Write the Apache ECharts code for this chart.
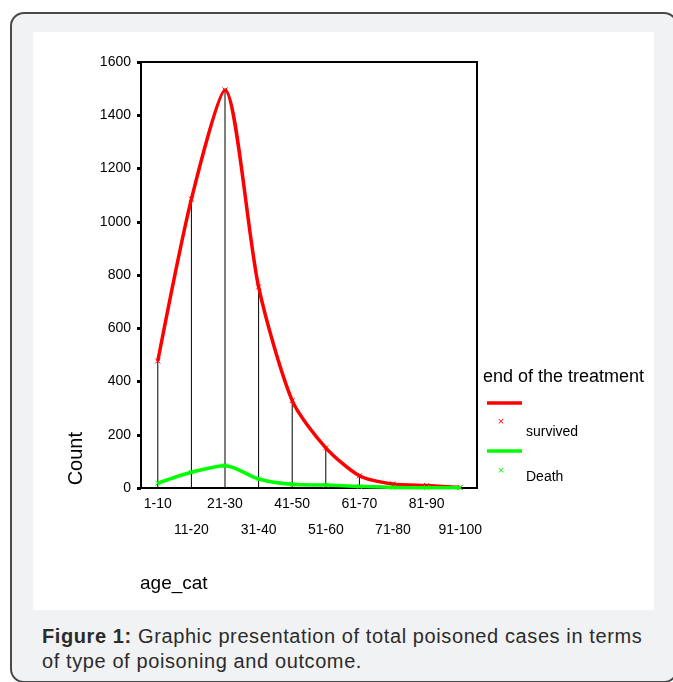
<!DOCTYPE html>
<html lang="en">
<head>
    <meta charset="UTF-8">
    <script src="https://cdn.jsdelivr.net/npm/echarts@6/dist/echarts.min.js"></script>
    <title>age_cat</title>
    <style>
        html,
        body {
            margin: 0;
            padding: 0;
            width: 673px;
            height: 682px;
            overflow: hidden;
            background: #fff;
            font-family: Arial, "Liberation Sans", sans-serif;
        }
        .outer-box {
            position: absolute;
            left: 10px;
            top: 12px;
            width: 664px;
            height: 667px;
            border: 2px solid #4a4a4a;
            border-radius: 14px;
            background: #f1f2f4;
        }
        .panel {
            position: absolute;
            left: 33px;
            top: 32px;
            width: 621px;
            height: 578px;
            background: #fff;
        }
        .my-chart {
            width: 100%;
            height: 100%;
        }
        .caption {
            position: absolute;
            left: 42px;
            top: 624px;
            font-size: 20px;
            line-height: 25px;
            letter-spacing: 0.6px;
            color: #2b2b2b;
        }
    </style>
</head>
<body>

<div class="outer-box"></div>
<div class="panel">
    <div class="my-chart"></div>
</div>
<div class="caption"><b>Figure 1:</b> Graphic presentation of total poisoned cases in terms<br>of type of poisoning and outcome.</div>

<script>
    var categories = ['1-10', '11-20', '21-30', '31-40', '41-50', '51-60', '61-70', '71-80', '81-90', '91-100'];
    var survived = [477, 1085, 1495, 755, 328, 151, 46, 15, 9, 2];
    var death = [18, 59, 84, 34, 14, 11, 6, 2, 1, 1];
    var yMin = 0, yMax = 1600, yStep = 200;

    var font = 'Arial, "Liberation Sans", sans-serif';
    var cross = 'path://M0,0L10,10M10,0L0,10';

    var myChart = echarts.init(document.querySelector('.my-chart'));

    var option = {
        animation: false,
        backgroundColor: '#fff',
        textStyle: {fontFamily: font},
        grid: {
            left: 108,
            top: 30,
            width: 336,
            height: 426,
            show: true,
            borderColor: '#000',
            borderWidth: 2,
            backgroundColor: 'transparent'
        },
        xAxis: {
            type: 'category',
            data: categories,
            boundaryGap: true,
            axisLine: {lineStyle: {color: '#000', width: 2}},
            axisTick: {alignWithLabel: true, length: 4, lineStyle: {color: '#000', width: 2}},
            axisLabel: {
                interval: 0,
                margin: 3,
                color: '#000',
                fontSize: 14,
                lineHeight: 26,
                fontFamily: font,
                formatter: function (v, i) {
                    return i % 2 ? '\n' + v : v;
                }
            },
            splitLine: {show: false}
        },
        yAxis: {
            type: 'value',
            min: yMin,
            max: yMax,
            interval: yStep,
            axisLine: {show: true, lineStyle: {color: '#000', width: 2}},
            axisTick: {show: true, length: 4, lineStyle: {color: '#000', width: 3}},
            axisLabel: {
                color: '#000', fontSize: 14, margin: 10, fontFamily: font,
                formatter: function (v) { return String(v); }
            },
            splitLine: {show: false}
        },
        series: [
            {
                // drop lines from the survived points
                name: 'drop',
                type: 'bar',
                data: survived,
                barWidth: 1,
                silent: true,
                z: 1,
                itemStyle: {color: '#000'}
            },
            {
                name: 'survived',
                type: 'line',
                data: survived,
                smooth: 0.25,
                z: 3,
                symbol: cross,
                symbolSize: 5,
                showSymbol: true,
                lineStyle: {color: '#ff0000', width: 3.5},
                itemStyle: {color: '#ff0000', borderColor: '#ff0000', borderWidth: 1}
            },
            {
                name: 'Death',
                type: 'line',
                data: death,
                smooth: 0.3,
                z: 4,
                symbol: cross,
                symbolSize: 5,
                showSymbol: true,
                lineStyle: {color: '#00ff00', width: 3.5},
                itemStyle: {color: '#00ff00', borderColor: '#00ff00', borderWidth: 1}
            }
        ],
        graphic: [
            {
                type: 'text', left: 33, top: 400, rotation: Math.PI / 2,
                style: {text: 'Count', font: '20px ' + font, fill: '#000'}
            },
            {
                type: 'text', x: 107, y: 552,
                style: {text: 'age_cat', font: '19px ' + font, fill: '#000', verticalAlign: 'middle'}
            },
            {
                type: 'text', x: 450, y: 345,
                style: {text: 'end of the treatment', font: '18px ' + font, fill: '#000', verticalAlign: 'middle'}
            },
            {
                type: 'line', shape: {x1: 454, y1: 371, x2: 489, y2: 371},
                style: {stroke: '#ff0000', lineWidth: 3.5}
            },
            {
                type: 'text', x: 468, y: 390,
                style: {text: '×', font: '11px ' + font, fill: '#ff0000', align: 'center', verticalAlign: 'middle'}
            },
            {
                type: 'text', x: 493, y: 400,
                style: {text: 'survived', font: '14px ' + font, fill: '#000', verticalAlign: 'middle'}
            },
            {
                type: 'line', shape: {x1: 454, y1: 419, x2: 489, y2: 419},
                style: {stroke: '#00ff00', lineWidth: 3.5}
            },
            {
                type: 'text', x: 468, y: 439,
                style: {text: '×', font: '11px ' + font, fill: '#00ff00', align: 'center', verticalAlign: 'middle'}
            },
            {
                type: 'text', x: 493, y: 445,
                style: {text: 'Death', font: '14px ' + font, fill: '#000', verticalAlign: 'middle'}
            }
        ]
    };

    myChart.setOption(option);
</script>
</body>
</html>
